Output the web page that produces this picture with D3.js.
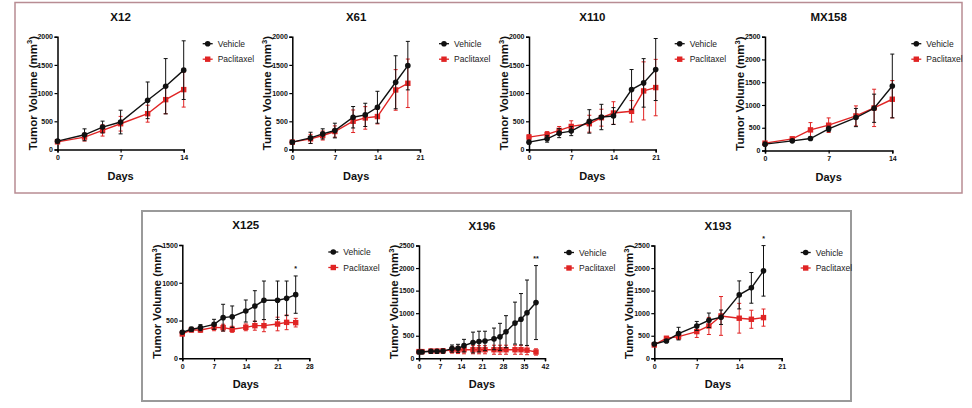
<!DOCTYPE html>
<html><head><meta charset="utf-8">
<script src="https://cdn.jsdelivr.net/npm/d3@7"></script>
<style>
html,body{margin:0;padding:0;background:#fff;}
svg{display:block;font-family:"Liberation Sans",Arial,sans-serif;}
.tick text{font-family:"Liberation Sans Narrow","Liberation Sans",Arial,sans-serif;font-weight:bold;}
</style></head><body>
<script>
// ---- data ----
const titles = ["X12","X61","X110","MX158","X125","X196","X193"];
const significance = ["","","","","*","**","*"];
const seriesNames = ["Vehicle","Paclitaxel"];

const x12Days = [0,3,5,7,10,12,14];
const x12Veh = [148,261,398,487,872,1122,1407];
const x12VehSd = [30,105,105,210,325,490,520];
const x12Pac = [136,220,338,457,635,884,1062];
const x12PacSd = [30,70,100,130,150,250,310];

const x61Days = [0,3,5,7,10,12,14,17,19];
const x61Veh = [130,206,277,336,572,614,749,1192,1487];
const x61VehSd = [30,100,90,130,190,206,283,470,430];
const x61Pac = [130,189,248,319,501,560,584,1056,1174];
const x61PacSd = [30,80,80,100,200,200,130,360,430];

const x110Days = [0,3,5,7,10,12,14,17,19,21];
const x110Veh = [130,190,290,326,498,576,593,1062,1181,1418];
const x110VehSd = [30,60,80,80,208,225,150,356,430,550];
const x110Pac = [220,267,338,409,457,564,647,677,1039,1098];
const x110PacSd = [40,50,70,100,150,150,200,190,515,500];

const mx158Days = [0,3,5,7,10,12,14];
const mx158Veh = [139,212,263,475,724,928,1418];
const mx158VehSd = [30,30,30,60,200,310,700];
const mx158Pac = [161,256,453,556,760,936,1126];
const mx158PacSd = [30,40,160,160,220,410,410];

const x125Days = [0,2,4,7,9,11,14,16,18,21,23,25];
const x125Veh = [344,384,406,450,538,551,626,692,768,768,794,843];
const x125VehSd = [20,30,40,66,177,142,146,203,255,255,229,247];
const x125Pac = [322,375,375,410,406,384,410,432,432,454,476,472];
const x125PacSd = [20,25,30,45,45,40,45,60,80,90,97,57];

const x196Days = [0,1,4,6,8,11,13,15,18,20,22,25,27,29,32,34,36,39];
const x196Veh = [140,140,155,155,160,215,220,280,350,370,385,430,475,590,780,865,1010,1235];
const x196VehSd = [20,20,40,40,40,80,90,140,230,230,215,240,300,355,465,570,725,820];
const x196Pac = [148,148,160,160,165,185,185,190,190,190,190,190,190,190,190,190,180,140];
const x196PacSd = [20,20,40,40,50,70,80,90,90,90,90,100,100,100,100,100,100,70];

const x193Days = [0,2,4,7,9,11,14,16,18];
const x193Veh = [318,385,547,717,843,910,1405,1561,1938];
const x193VehSd = [30,30,140,100,160,160,310,340,560];
const x193Pac = [296,444,481,592,717,939,888,865,902];
const x193PacSd = [30,40,60,130,190,430,330,200,190];

const yTicks2000 = [0,500,1000,1500,2000];
const yTicks2500 = [0,500,1000,1500,2000,2500];
const yTicks1500 = [0,500,1000,1500];
const xTicks14 = [0,7,14];
const xTicks21 = [0,7,14,21];
const xTicks28 = [0,7,14,21,28];
const xTicks42 = [0,7,14,21,28,35,42];

// ---- layout ----
const W = 972, H = 408;
const panels = [
  {days:x12Days, veh:x12Veh, vehSd:x12VehSd, pac:x12Pac, pacSd:x12PacSd, xt:xTicks14, yt:yTicks2000, x0:57.5, x1:183.7, yTop:36.7, yBot:149.5},
  {days:x61Days, veh:x61Veh, vehSd:x61VehSd, pac:x61Pac, pacSd:x61PacSd, xt:xTicks21, yt:yTicks2000, x0:292.3, x1:420, yTop:36.7, yBot:149.5},
  {days:x110Days, veh:x110Veh, vehSd:x110VehSd, pac:x110Pac, pacSd:x110PacSd, xt:xTicks21, yt:yTicks2000, x0:529, x1:655.7, yTop:36.7, yBot:149.5},
  {days:mx158Days, veh:mx158Veh, vehSd:mx158VehSd, pac:mx158Pac, pacSd:mx158PacSd, xt:xTicks14, yt:yTicks2500, x0:765, x1:892.3, yTop:36.7, yBot:150.5},
  {days:x125Days, veh:x125Veh, vehSd:x125VehSd, pac:x125Pac, pacSd:x125PacSd, xt:xTicks28, yt:yTicks1500, x0:182.3, x1:309.3, yTop:245, yBot:358.3},
  {days:x196Days, veh:x196Veh, vehSd:x196VehSd, pac:x196Pac, pacSd:x196PacSd, xt:xTicks42, yt:yTicks2500, x0:419, x1:545, yTop:245.5, yBot:358.3},
  {days:x193Days, veh:x193Veh, vehSd:x193VehSd, pac:x193Pac, pacSd:x193PacSd, xt:xTicks21, yt:yTicks2500, x0:654.3, x1:781.7, yTop:245.5, yBot:358.3}
];
const RED = "#e02424", BLACK = "#111";

const svg = d3.select("body").append("svg").attr("width",W).attr("height",H);
svg.append("rect").attr("width",W).attr("height",H).attr("fill","#fff");

// frames
svg.append("rect").attr("x",15).attr("y",2.5).attr("width",947).attr("height",190.5)
  .attr("fill","none").attr("stroke","#b88c93").attr("stroke-width",1.5);
svg.append("rect").attr("x",142).attr("y",211).attr("width",709).attr("height",190)
  .attr("fill","none").attr("stroke","#9a9a9a").attr("stroke-width",2);

panels.forEach((p,i)=>{
  const g = svg.append("g");
  const x = d3.scaleLinear().domain([p.xt[0], p.xt[p.xt.length-1]]).range([p.x0,p.x1]);
  const y = d3.scaleLinear().domain([0, p.yt[p.yt.length-1]]).range([p.yBot,p.yTop]);

  // axes
  const ya = g.append("g").attr("transform",`translate(${p.x0},0)`)
    .call(d3.axisLeft(y).tickValues(p.yt).tickSize(3).tickPadding(1.5).tickFormat(d3.format("d")));
  const xa = g.append("g").attr("transform",`translate(0,${p.yBot})`)
    .call(d3.axisBottom(x).tickValues(p.xt).tickSize(3).tickPadding(3).tickFormat(d3.format("d")));
  [ya,xa].forEach(a=>{
    a.select(".domain").attr("stroke","#000").attr("stroke-width",1.5);
    a.selectAll(".tick line").attr("stroke","#000").attr("stroke-width",1.2);
    a.selectAll(".tick text").attr("font-size",7).attr("fill","#111");
  });

  // title
  const cx = (p.x0+p.x1)/2;
  g.append("text").attr("x",cx).attr("y",p.yTop-16).attr("text-anchor","middle")
    .attr("font-size",11.5).attr("font-weight","bold").attr("fill","#111").text(titles[i]);
  // x label
  g.append("text").attr("x",cx).attr("y",p.yBot+30).attr("text-anchor","middle")
    .attr("font-size",11).attr("font-weight","bold").attr("fill","#111").text("Days");
  // y label
  const yl = g.append("text").attr("transform",`translate(${p.x0-21},${(p.yTop+p.yBot)/2}) rotate(-90)`)
    .attr("text-anchor","middle").attr("font-size",11.5).attr("font-weight","bold").attr("fill","#111");
  yl.append("tspan").text("Tumor Volume (mm");
  yl.append("tspan").attr("font-size",7.5).attr("dy",-4.5).text("3");
  yl.append("tspan").attr("dy",4.5).text(")");

  const series = [
    {vals:p.veh, sd:p.vehSd, color:BLACK, shape:"circle"},
    {vals:p.pac, sd:p.pacSd, color:RED, shape:"square"}
  ];
  [series[1], series[0]].forEach(s=>{
    const pts = p.days.map((d,k)=>({d, v:s.vals[k], e:s.sd[k]}));
    const eg = g.append("g").attr("stroke",s.color).attr("stroke-width",1);
    pts.forEach(o=>{
      const yt = y(o.v+o.e), yb = y(Math.max(0,o.v-o.e)), xx = x(o.d);
      eg.append("line").attr("x1",xx).attr("x2",xx).attr("y1",yt).attr("y2",yb);
      eg.append("line").attr("x1",xx-2).attr("x2",xx+2).attr("y1",yt).attr("y2",yt);
      eg.append("line").attr("x1",xx-2).attr("x2",xx+2).attr("y1",yb).attr("y2",yb);
    });
    g.append("path").datum(pts).attr("fill","none").attr("stroke",s.color).attr("stroke-width",1.4)
      .attr("d",d3.line().x(o=>x(o.d)).y(o=>y(o.v)));
    if(s.shape==="circle"){
      g.selectAll(null).data(pts).enter().append("circle")
        .attr("cx",o=>x(o.d)).attr("cy",o=>y(o.v)).attr("r",2.8).attr("fill",s.color);
    } else {
      g.selectAll(null).data(pts).enter().append("rect")
        .attr("x",o=>x(o.d)-2.7).attr("y",o=>y(o.v)-2.7).attr("width",5.4).attr("height",5.4).attr("fill",s.color);
    }
  });

  // significance
  if(significance[i]){
    const last = p.days.length-1;
    g.append("text").attr("x",x(p.days[last])).attr("y",y(p.veh[last]+p.vehSd[last])-5)
      .attr("text-anchor","middle").attr("font-size",7).attr("font-weight","bold").attr("fill","#111")
      .text(significance[i]);
  }

  // legend
  const lx = p.x1+24, ly = p.yTop+7;
  series.forEach((s,k)=>{
    const yy = ly + k*15.5;
    g.append("line").attr("x1",lx-5).attr("x2",lx+5).attr("y1",yy).attr("y2",yy)
      .attr("stroke",s.color).attr("stroke-width",1.3);
    if(s.shape==="circle") g.append("circle").attr("cx",lx).attr("cy",yy).attr("r",2.8).attr("fill",s.color);
    else g.append("rect").attr("x",lx-2.7).attr("y",yy-2.7).attr("width",5.4).attr("height",5.4).attr("fill",s.color);
    g.append("text").attr("x",lx+10).attr("y",yy+3).attr("font-size",8.5)
      .attr("font-family","'Liberation Sans Narrow','Liberation Sans',Arial,sans-serif")
      .attr("fill","#222").text(seriesNames[k]);
  });
});
</script>
</body></html>
